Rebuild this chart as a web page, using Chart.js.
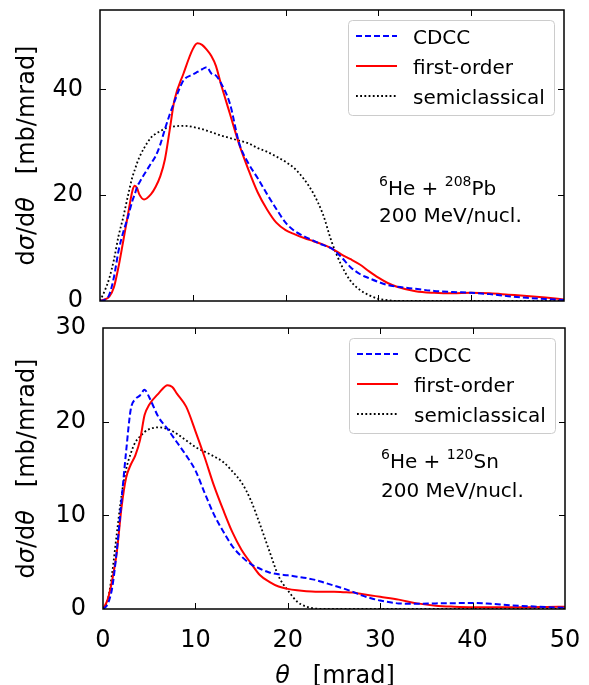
<!DOCTYPE html>
<html>
<head>
<meta charset="utf-8">
<script src="https://cdn.jsdelivr.net/npm/chart.js@4.4.1/dist/chart.umd.min.js"></script>
<style>
  html, body { margin: 0; padding: 0; background: #fff; }
  #wrap { position: relative; width: 589px; height: 685px; }
  #topBox { position: absolute; left: 0; top: 0; width: 589px; height: 320px; }
  #botBox { position: absolute; left: 0; top: 296px; width: 589px; height: 389px; }
</style>
</head>
<body>
<div id="wrap">
  <div id="topBox"><canvas id="pbChart"></canvas></div>
  <div id="botBox"><canvas id="snChart"></canvas></div>
</div>
<script>
// ---- data: 6He + 208Pb (upper panel) ----
var pbTheta = [0,0.5,1,1.5,2,2.5,3,3.5,3.75,4,4.25,4.75,5.5,6,6.5,7,7.5,8,9,10,10.5,11,11.5,12,12.5,13,14,15,16,17,18,19,20,21,22,23,24,25,26,27,28,29,30,31,32,34,36,38,40,42,44,46,48,50];
var pbCdcc = [0,0.2,1.2,4.5,9.5,13,15.8,19,20.2,21.6,22.4,23.9,26,27.4,29.6,32.5,35.2,37.6,41.7,42.8,43.3,43.8,44.2,43,42.6,41.3,37.3,29.8,26,23.2,20.2,17.4,14.8,13.2,12.2,11.4,10.6,9.9,8.3,6.4,5.1,4.3,3.6,3.0,2.7,2.3,1.9,1.7,1.55,1.3,0.9,0.6,0.4,0.2];
var pbFirst = [0,0.3,0.8,2.6,6.5,11.3,16.2,20.9,21.8,21.3,20.1,19.2,20.2,21.6,23.6,26.8,32.2,37.8,43,47.6,48.7,48.4,47.5,46.3,44.4,41.2,35.4,29.6,24.8,20.5,17.3,14.8,13.4,12.6,11.9,11.3,10.7,9.9,8.8,7.9,6.9,5.6,4.4,3.4,2.7,1.85,1.55,1.45,1.55,1.45,1.2,0.95,0.65,0.3];
var pbSemi = [0,1.9,4.3,7.8,12.3,15.8,19.8,23.5,24.8,26.1,27.2,28.9,30.9,31.6,32.1,32.6,32.8,33.0,33.1,32.9,32.7,32.5,32.2,31.9,31.6,31.3,30.8,30.3,29.8,28.9,28.2,27.3,26.3,25,23,20.3,16.5,11,6.8,3.8,2.1,1.1,0.4,0.15,0,0,0,0,0,0,0,0,0,0];

// ---- data: 6He + 120Sn (lower panel) ----
var snTheta = [0,0.5,1,1.5,2,2.5,3,3.5,4,4.5,5,6,7,7.5,8,9,10,11,12,13,14,15,16,17,18,19,20,21,22,23,24,25,26,27,28,29,30,32,34,36,38,40,42,44,46,48,50];
var snCdcc = [0,0.5,2.3,6.3,11.6,16.8,21.3,22.4,22.8,23.4,22.6,20.5,19.2,18.5,17.8,16.4,14.8,12.4,10.1,8.3,6.7,5.6,4.8,4.3,3.9,3.7,3.6,3.45,3.3,3.1,2.8,2.5,2.2,1.85,1.45,1.15,0.9,0.6,0.55,0.6,0.62,0.65,0.55,0.4,0.3,0.2,0.12];
var snFirst = [0,1.0,3.1,6.1,10.8,14.0,15.4,16.4,18.0,20.7,21.8,23.0,23.9,23.7,23.0,21.6,19.0,16.2,13.2,10.6,8.2,6.3,4.9,3.6,2.9,2.4,2.15,2.0,1.9,1.85,1.85,1.85,1.8,1.75,1.6,1.45,1.3,1.0,0.6,0.35,0.25,0.2,0.2,0.2,0.2,0.22,0.25];
var snSemi = [0,0.9,3.9,8.1,12.1,14.9,16.6,17.8,18.4,18.9,19.2,19.4,19.2,19.0,18.7,18.0,17.3,16.8,16.3,15.7,14.7,13.5,11.6,9.0,6.2,3.5,2.0,0.8,0.25,0.05,0,0,0,0,0,0,0,0,0,0,0,0,0,0,0,0,0];

var seriesLabels = ['CDCC', 'first-order', 'semiclassical'];
var xTicksStep = 10;

var FONT = "'DejaVu Sans', sans-serif";

function pts(xs, ys) {
  return xs.map(function (x, i) { return { x: x, y: ys[i] }; });
}

function makeDatasets(theta, cdcc, first, semi) {
  return [
    { label: seriesLabels[0], data: pts(theta, cdcc), borderColor: '#0000ff', borderWidth: 2, borderDash: [6, 3] },
    { label: seriesLabels[1], data: pts(theta, first), borderColor: '#ff0000', borderWidth: 2 },
    { label: seriesLabels[2], data: pts(theta, semi), borderColor: '#000000', borderWidth: 1.8, borderDash: [1.8, 2.4] }
  ];
}

function drawRuns(ctx, runs, x, y, align) {
  var w = 0;
  runs.forEach(function (r) { ctx.font = r.font; w += ctx.measureText(r.t).width; });
  var cx = align === 'center' ? x - w / 2 : x;
  runs.forEach(function (r) {
    ctx.font = r.font;
    ctx.fillText(r.t, cx, y + (r.dy || 0));
    cx += ctx.measureText(r.t).width;
  });
}

var normal = '24px ' + FONT, italic = 'italic 24px ' + FONT;
var yTitleRuns = [
  { t: 'd', font: normal }, { t: 'σ', font: italic }, { t: '/d', font: normal },
  { t: 'θ', font: italic }, { t: '   [mb/mrad]', font: normal }
];

// inward ticks on all four sides, frame, legend box, annotation, titles
var framePlugin = {
  id: 'frame',
  afterDraw: function (chart, args, o) {
    var ctx = chart.ctx, a = chart.chartArea, sx = chart.scales.x, sy = chart.scales.y;
    ctx.save();
    ctx.strokeStyle = '#000';
    ctx.lineWidth = 1;
    ctx.beginPath();
    sx.ticks.forEach(function (t) {
      var px = Math.round(sx.getPixelForValue(t.value)) + 0.5;
      if (px <= a.left + 2 || px >= a.right - 2) return;
      ctx.moveTo(px, a.bottom); ctx.lineTo(px, a.bottom - 6);
      ctx.moveTo(px, a.top); ctx.lineTo(px, a.top + 6);
    });
    sy.ticks.forEach(function (t) {
      var py = Math.round(sy.getPixelForValue(t.value)) + 0.5;
      if (py <= a.top + 2 || py >= a.bottom - 2) return;
      ctx.moveTo(a.left, py); ctx.lineTo(a.left + 6, py);
      ctx.moveTo(a.right, py); ctx.lineTo(a.right - 6, py);
    });
    ctx.stroke();
    ctx.lineWidth = 1.5;
    ctx.strokeRect(a.left, a.top, a.right - a.left, a.bottom - a.top);

    // legend
    var L = a.right - 10 - 206, T = a.top + 10;
    ctx.beginPath();
    ctx.roundRect(L + 0.5, T + 0.5, 206, 95, 4);
    ctx.fillStyle = 'rgba(255,255,255,0.8)';
    ctx.fill();
    ctx.strokeStyle = '#cccccc';
    ctx.lineWidth = 1;
    ctx.stroke();
    chart.data.datasets.forEach(function (ds, i) {
      var base = T + 24 + i * 30;
      ctx.save();
      ctx.strokeStyle = ds.borderColor;
      ctx.lineWidth = ds.borderWidth;
      ctx.setLineDash(ds.borderDash || []);
      ctx.beginPath();
      ctx.moveTo(L + 8, base - 8);
      ctx.lineTo(L + 49, base - 8);
      ctx.stroke();
      ctx.restore();
      ctx.fillStyle = '#000';
      ctx.textBaseline = 'alphabetic';
      ctx.textAlign = 'left';
      ctx.font = '20px ' + FONT;
      ctx.fillText(ds.label, L + 65, base);
    });

    // annotation
    ctx.fillStyle = '#000';
    ctx.textAlign = 'left';
    ctx.textBaseline = 'alphabetic';
    var big = '20px ' + FONT, small = '14px ' + FONT;
    drawRuns(ctx, [
      { t: '6', font: small, dy: -9 }, { t: 'He + ', font: big },
      { t: o.mass, font: small, dy: -9 }, { t: o.target, font: big }
    ], a.left + o.noteX, a.top + o.noteY, 'left');
    drawRuns(ctx, [{ t: '200 MeV/nucl.', font: big }], a.left + o.noteX, a.top + o.noteY + o.noteGap, 'left');

    // y title
    ctx.save();
    ctx.translate(28, (a.top + a.bottom) / 2);
    ctx.rotate(-Math.PI / 2);
    ctx.textBaseline = 'middle';
    drawRuns(ctx, yTitleRuns, 0, 0, 'center');
    ctx.restore();

    // x title
    if (o.xTitle) {
      ctx.textBaseline = 'alphabetic';
      drawRuns(ctx, [{ t: 'θ', font: italic }, { t: '   [mrad]', font: normal }],
        (a.left + a.right) / 2 + 1, a.bottom + 74, 'center');
    }
    ctx.restore();
  }
};

function makeChart(id, datasets, yMax, yStep, opts) {
  return new Chart(document.getElementById(id), {
    type: 'line',
    data: { datasets: datasets },
    plugins: [framePlugin],
    options: {
      responsive: true,
      maintainAspectRatio: false,
      devicePixelRatio: 1,
      animation: false,
      layout: { padding: opts.padding },
      elements: {
        point: { radius: 0 },
        line: { cubicInterpolationMode: 'monotone', fill: false, borderCapStyle: 'butt' }
      },
      plugins: {
        legend: { display: false },
        tooltip: { enabled: false },
        frame: opts.frame
      },
      scales: {
        x: {
          type: 'linear', min: 0, max: 50,
          grid: { display: false }, border: { display: false },
          ticks: { stepSize: xTicksStep, display: opts.xLabels, padding: 9, color: '#000', font: { family: FONT, size: 24 } },
          afterFit: function (s) { s.height = opts.xHeight; s.paddingLeft = 0; s.paddingRight = 0; }
        },
        y: {
          type: 'linear', min: 0, max: yMax,
          grid: { display: false }, border: { display: false },
          ticks: { stepSize: yStep, includeBounds: false, padding: 9, color: '#000', font: { family: FONT, size: 24 } },
          afterFit: function (s) { s.width = opts.yWidth; s.paddingTop = 0; s.paddingBottom = 0; }
        }
      }
    }
  });
}

makeChart('pbChart', makeDatasets(pbTheta, pbCdcc, pbFirst, pbSemi), 55, 20, {
  padding: { left: 0, right: 25, top: 10, bottom: 0 },
  xHeight: 19, yWidth: 100, xLabels: false,
  frame: { mass: '208', target: 'Pb', noteX: 279, noteY: 185, noteGap: 27, xTitle: false }
});

makeChart('snChart', makeDatasets(snTheta, snCdcc, snFirst, snSemi), 30, 10, {
  padding: { left: 0, right: 24, top: 32, bottom: 0 },
  xHeight: 76, yWidth: 103, xLabels: true,
  frame: { mass: '120', target: 'Sn', noteX: 278, noteY: 140, noteGap: 29, xTitle: true }
});
</script>
</body>
</html>
